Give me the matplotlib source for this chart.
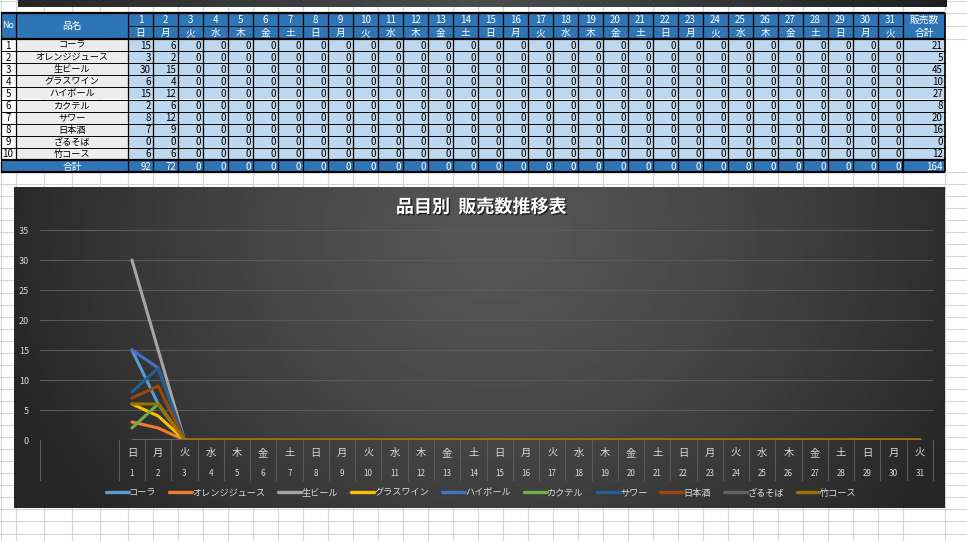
import numpy as np
import matplotlib
matplotlib.use('Agg')
import matplotlib.pyplot as plt
from matplotlib.patches import Rectangle
import matplotlib.patheffects as pe

plt.rcParams['font.family'] = ['Noto Sans CJK JP', 'DejaVu Sans']

# ---------------- data ----------------
products = ['コーラ', 'オレンジジュース', '生ビール', 'グラスワイン', 'ハイボール',
            'カクテル', 'サワー', '日本酒', 'ざるそば', '竹コース']
days = [1, 2, 3, 4, 5, 6, 7, 8, 9, 10, 11, 12, 13, 14, 15, 16,
        17, 18, 19, 20, 21, 22, 23, 24, 25, 26, 27, 28, 29, 30, 31]
weekdays = ['日', '月', '火', '水', '木', '金', '土', '日', '月', '火', '水', '木', '金', '土',
            '日', '月', '火', '水', '木', '金', '土', '日', '月', '火', '水', '木', '金', '土',
            '日', '月', '火']
cola        = [15, 6, 0, 0, 0, 0, 0, 0, 0, 0, 0, 0, 0, 0, 0, 0, 0, 0, 0, 0, 0, 0, 0, 0, 0, 0, 0, 0, 0, 0, 0]
orange      = [3, 2, 0, 0, 0, 0, 0, 0, 0, 0, 0, 0, 0, 0, 0, 0, 0, 0, 0, 0, 0, 0, 0, 0, 0, 0, 0, 0, 0, 0, 0]
beer        = [30, 15, 0, 0, 0, 0, 0, 0, 0, 0, 0, 0, 0, 0, 0, 0, 0, 0, 0, 0, 0, 0, 0, 0, 0, 0, 0, 0, 0, 0, 0]
wine        = [6, 4, 0, 0, 0, 0, 0, 0, 0, 0, 0, 0, 0, 0, 0, 0, 0, 0, 0, 0, 0, 0, 0, 0, 0, 0, 0, 0, 0, 0, 0]
highball    = [15, 12, 0, 0, 0, 0, 0, 0, 0, 0, 0, 0, 0, 0, 0, 0, 0, 0, 0, 0, 0, 0, 0, 0, 0, 0, 0, 0, 0, 0, 0]
cocktail    = [2, 6, 0, 0, 0, 0, 0, 0, 0, 0, 0, 0, 0, 0, 0, 0, 0, 0, 0, 0, 0, 0, 0, 0, 0, 0, 0, 0, 0, 0, 0]
sour        = [8, 12, 0, 0, 0, 0, 0, 0, 0, 0, 0, 0, 0, 0, 0, 0, 0, 0, 0, 0, 0, 0, 0, 0, 0, 0, 0, 0, 0, 0, 0]
sake        = [7, 9, 0, 0, 0, 0, 0, 0, 0, 0, 0, 0, 0, 0, 0, 0, 0, 0, 0, 0, 0, 0, 0, 0, 0, 0, 0, 0, 0, 0, 0]
zarusoba    = [0, 0, 0, 0, 0, 0, 0, 0, 0, 0, 0, 0, 0, 0, 0, 0, 0, 0, 0, 0, 0, 0, 0, 0, 0, 0, 0, 0, 0, 0, 0]
take_course = [6, 6, 0, 0, 0, 0, 0, 0, 0, 0, 0, 0, 0, 0, 0, 0, 0, 0, 0, 0, 0, 0, 0, 0, 0, 0, 0, 0, 0, 0, 0]
series = [cola, orange, beer, wine, highball, cocktail, sour, sake, zarusoba, take_course]
colors = ['#5B9BD5', '#ED7D31', '#A5A5A5', '#FFC000', '#4472C4',
          '#70AD47', '#255E91', '#9E480E', '#636363', '#997300']
n_blank = 3  # empty leading categories in the chart's category axis

# ---------------- figure ----------------
W, H = 967, 541
fig = plt.figure(figsize=(W / 100, H / 100), dpi=100)
bg = fig.add_axes([0, 0, 1, 1])
bg.set_xlim(0, W)
bg.set_ylim(H, 0)
bg.axis('off')

# spreadsheet gridlines
grid_c = '#d4d4d4'
col_edges = [0.5, 16, 44, 72, 100] + [128 + 25 * i for i in range(32)] + [945]
for x in col_edges:
    bg.plot([x, x], [0, H], color=grid_c, lw=0.8, zorder=0)
row_edges = [1, 13, 26, 39] + list(np.arange(172, H + 1, 12.05))
for y in row_edges:
    bg.plot([0, W], [y, y], color=grid_c, lw=0.8, zorder=0)

# top dark band (bottom of another chart)
band = np.interp(np.linspace(0, 1, 300), [0, 0.5, 1], [0.15, 0.30, 0.12])
bg.imshow(np.tile(band, (2, 1)), cmap='gray', vmin=0, vmax=1,
          extent=(18, 947, 7, 0), aspect='auto', zorder=1)

# ---------------- table ----------------
blue = '#2E75B6'
lightblue = '#BDD7EE'
gray = '#EDEDED'
x_no = (0.5, 16)
x_name = (16, 128)
x_days = [128 + 25 * i for i in range(32)]
x_sum = (903, 945)
y_top, y_mid, y_hdr = 13, 26, 39
row_h = 12.1
y_rows = [y_hdr + row_h * i for i in range(11)]
y_tot = (160.5, 172)
fs_t = 7.0
fs_j = 6.6

def rect(x0, x1, y0, y1, fc, z=2):
    bg.add_patch(Rectangle((x0, y0), x1 - x0, y1 - y0, facecolor=fc, edgecolor='none', zorder=z))

# header
rect(x_no[0], x_sum[1], y_top, y_hdr, blue)
bg.text(8, (y_top + y_hdr) / 2, 'No', color='white', fontsize=6.5, ha='center', va='center', zorder=5)
bg.text(72, (y_top + y_hdr) / 2, '品名', color='white', fontsize=7, ha='center', va='center', zorder=5)
for i, d in enumerate(days):
    xc = x_days[i] + 12.5
    bg.text(xc, (y_top + y_mid) / 2 + 0.5, str(d), color='white', fontsize=fs_t, ha='center', va='center', zorder=5)
    bg.text(xc, (y_mid + y_hdr) / 2 + 0.5, weekdays[i], color='white', fontsize=fs_j + 0.4, ha='center', va='center', zorder=5)
bg.text(924, (y_top + y_mid) / 2 + 0.5, '販売数', color='white', fontsize=fs_j + 0.4, ha='center', va='center', zorder=5)
bg.text(924, (y_mid + y_hdr) / 2 + 0.5, '合計', color='white', fontsize=fs_j + 0.4, ha='center', va='center', zorder=5)

# data rows
for r, name in enumerate(products):
    y0, y1 = y_rows[r], y_rows[r + 1]
    yc = (y0 + y1) / 2 + 0.5
    rect(x_no[0], x_no[1], y0, y1, 'white')
    rect(x_name[0], x_name[1], y0, y1, gray)
    rect(x_days[0], x_sum[1], y0, y1, lightblue)
    bg.text(8, yc, str(r + 1), fontsize=fs_t, ha='center', va='center', color='black', zorder=5)
    bg.text(72, yc, name, fontsize=fs_j, ha='center', va='center', color='black', zorder=5)
    vals = series[r]
    for i, v in enumerate(vals):
        bg.text(x_days[i + 1] - 2, yc, str(v), fontsize=fs_t, ha='right', va='center', color='black', zorder=5)
    bg.text(x_sum[1] - 2, yc, str(sum(vals)), fontsize=fs_t, ha='right', va='center', color='black', zorder=5)

# total row
rect(x_no[0], x_sum[1], y_tot[0], y_tot[1], blue)
ytc = (y_tot[0] + y_tot[1]) / 2 + 0.5
bg.text(72, ytc, '合計', color='white', fontsize=fs_j + 0.4, ha='center', va='center', zorder=5)
for i in range(len(days)):
    tot = sum(s[i] for s in series)
    bg.text(x_days[i + 1] - 2, ytc, str(tot), color='white', fontsize=fs_t, ha='right', va='center', zorder=5)
bg.text(x_sum[1] - 2, ytc, str(sum(sum(s) for s in series)), color='white', fontsize=fs_t, ha='right', va='center', zorder=5)

# table lines
lk = dict(color='black', zorder=6, solid_capstyle='butt')
for x in [x_no[0], x_no[1]]:
    bg.plot([x, x], [y_top, y_rows[-1]], lw=0.9, **lk)
bg.plot([x_no[0], x_no[0]], [y_tot[0], y_tot[1]], lw=0.9, **lk)
for x in x_days:
    bg.plot([x, x], [y_top, y_tot[1]], lw=0.9, **lk)
bg.plot([x_sum[1], x_sum[1]], [y_top, y_tot[1]], lw=1.2, **lk)
bg.plot([x_sum[0] - 1.5, x_sum[0] - 1.5], [y_tot[0], y_tot[1]], lw=0.7, **lk)
bg.plot([x_days[0], x_days[-1]], [y_mid, y_mid], lw=0.6, **lk)
for y in y_rows[1:-1]:
    bg.plot([x_no[0], x_sum[1]], [y, y], lw=0.7, **lk)
for y in [y_top, y_hdr, y_rows[-1], y_tot[1]]:
    bg.plot([x_no[0], x_sum[1]], [y, y], lw=1.6, **lk)

# ---------------- chart ----------------
cx0, cx1, cy0, cy1 = 14, 945, 187, 508
gx = np.linspace(0, 1, 400)
gy = np.linspace(0, 1, 200)
U, V = np.meshgrid(gx, gy)
d = np.sqrt(((U - 0.52) / 0.55) ** 2 + ((V - 0.15) / 1.4) ** 2)
img = 0.34 - 0.19 * np.clip(d, 0, 1) ** 1.3
bg.imshow(img, cmap='gray', vmin=0, vmax=1, extent=(cx0, cx1, cy1, cy0),
          aspect='auto', zorder=7, interpolation='bilinear')
bg.set_xlim(0, W)
bg.set_ylim(H, 0)

# plot area
px0, px1, py0, py1 = 40, 933, 230, 440
ax = fig.add_axes([px0 / W, 1 - py1 / H, (px1 - px0) / W, (py1 - py0) / H])
ax.patch.set_alpha(0)
ncat = n_blank + len(days)
ax.set_xlim(-0.5, ncat - 0.5)
ax.set_ylim(0, 35)
for s in ax.spines.values():
    s.set_visible(False)
ax.set_yticks(range(0, 36, 5))
ax.tick_params(axis='y', length=0, pad=8, labelcolor='#d9d9d9', labelsize=6.5)
ax.set_xticks([])
ax.grid(axis='y', color='#5a5a5a', lw=0.8)
ax.set_axisbelow(True)

xpos = np.arange(n_blank, ncat)
for name, vals, c in zip(products, series, colors):
    ax.plot(xpos, vals, color=c, lw=2.2, label=name,
            solid_joinstyle='round', solid_capstyle='round', zorder=3)

# category axis (multi-level)
tr = ax.get_xaxis_transform()
ph = (py1 - py0)
bounds = [-0.5] + [k - 0.5 for k in range(n_blank, ncat + 1)]
for b in bounds:
    ax.plot([b, b], [0, -40 / ph], transform=tr, color='#5a5a5a', lw=0.8, clip_on=False)
for i, (d_, wd) in enumerate(zip(days, weekdays)):
    xc = n_blank + i
    ax.text(xc, -13 / ph, wd, transform=tr, color='#d9d9d9', fontsize=7.4,
            ha='center', va='center')
    ax.text(xc, -33 / ph, str(d_), transform=tr, color='#d9d9d9', fontsize=5.8,
            ha='center', va='center')

# title
fig.text(481 / W, 1 - 207 / H, '品目別  販売数推移表', color='white', fontsize=13,
         fontweight='bold', ha='center', va='center',
         path_effects=[pe.withSimplePatchShadow(offset=(1, -1), shadow_rgbFace='black', alpha=0.6)])

# legend
leg = fig.legend(loc='center', bbox_to_anchor=(481 / W, 1 - 493 / H), ncol=10,
                 frameon=False, fontsize=6.6, labelcolor='#d9d9d9',
                 handlelength=2.5, handletextpad=0.05, columnspacing=1.4,
                 borderaxespad=0, borderpad=0)
for h in leg.get_lines():
    h.set_linewidth(2.4)
    h.set_solid_capstyle('round')

fig.savefig('out.png', dpi=100)
